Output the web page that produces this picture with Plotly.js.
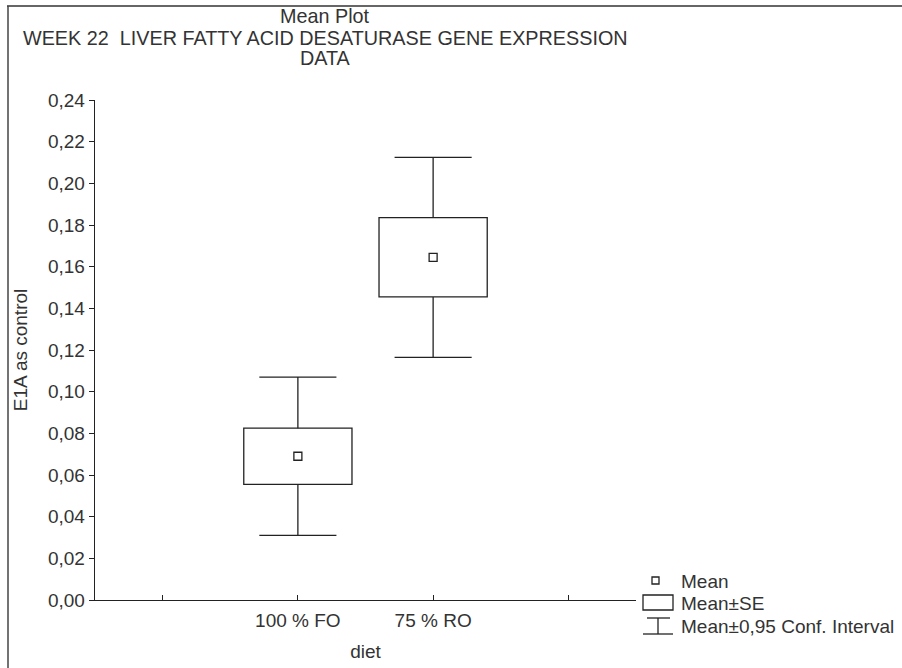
<!DOCTYPE html>
<html>
<head>
<meta charset="utf-8">
<script src="https://cdn.plot.ly/plotly-3.0.1.min.js"></script>
<style>html,body{margin:0;padding:0;background:#fff;}#chart{width:902px;height:668px;}</style>
</head>
<body>
<div id="chart"></div>
<script>
// Data
var categories = ['100 % FO', '75 % RO'];
var catPos = [1, 2];
var means = [0.069, 0.1645];
var seLow = [0.0555, 0.1455];
var seHigh = [0.0825, 0.1835];
var ciLow = [0.031, 0.1165];
var ciHigh = [0.107, 0.2125];
var tickVals = [0, 1, 2, 3];
var tickText = ['', '100 % FO', '75 % RO', ''];
var titleLines = ['Mean Plot', 'WEEK 22  LIVER FATTY ACID DESATURASE GENE EXPRESSION', 'DATA'];
var legendLabels = ['Mean', 'Mean±SE', 'Mean±0,95 Conf. Interval'];

var capHalf = 0.285;
var lineColor = '#222';
var textColor = '#333';
var fs = 19;

// plot area in pixels (for decorative layout placement only)
var L = 95, R = 636, T = 100, B = 600;
function px(x) { return (x - L) / (R - L); }
function py(y) { return (B - y) / (B - T); }

// whisker segments (SE edge to CI end) plus caps
var wx = [], wy = [];
for (var i = 0; i < categories.length; i++) {
  var c = catPos[i];
  wx.push(c, c, null, c, c, null);
  wy.push(seHigh[i], ciHigh[i], null, seLow[i], ciLow[i], null);
  wx.push(c - capHalf, c + capHalf, null, c - capHalf, c + capHalf, null);
  wy.push(ciHigh[i], ciHigh[i], null, ciLow[i], ciLow[i], null);
}

var traces = [
  {
    type: 'bar', name: legendLabels[1],
    x: catPos,
    base: seLow,
    y: seHigh.map(function (h, i) { return h - seLow[i]; }),
    width: 0.8,
    marker: {color: 'rgba(255,255,255,0)', line: {color: lineColor, width: 1.3}}
  },
  {
    type: 'scatter', mode: 'lines', name: legendLabels[2],
    x: wx, y: wy,
    line: {color: lineColor, width: 1.3},
    connectgaps: false, hoverinfo: 'skip'
  },
  {
    type: 'scatter', mode: 'markers', name: legendLabels[0],
    x: catPos, y: means,
    marker: {symbol: 'square-open', size: 8, color: lineColor, line: {width: 1.3, color: lineColor}}
  }
];

var annotations = [];
var titleY = [16, 38, 58];
for (var k = 0; k < titleLines.length; k++) {
  annotations.push({
    xref: 'paper', yref: 'paper', x: px(325), y: py(titleY[k]),
    xanchor: 'center', yanchor: 'middle', showarrow: false,
    text: titleLines[k], font: {size: 19.8, color: textColor}
  });
}
var legY = [581, 603, 626];
for (var m = 0; m < legendLabels.length; m++) {
  annotations.push({
    xref: 'paper', yref: 'paper', x: px(679), y: py(legY[m]),
    xanchor: 'left', yanchor: 'middle', showarrow: false,
    text: legendLabels[m], font: {size: fs, color: textColor}
  });
}

var g = {color: lineColor, width: 1.3};
var shapes = [
  // outer frame lines
  {type: 'line', xref: 'paper', yref: 'paper', x0: px(7), x1: px(902), y0: py(6), y1: py(6), line: {color: '#666', width: 2}},
  {type: 'line', xref: 'paper', yref: 'paper', x0: px(8), x1: px(8), y0: py(6), y1: py(668), line: {color: '#444', width: 1.5}},
  // legend glyphs
  {type: 'rect', xref: 'paper', yref: 'paper', x0: px(652), x1: px(659), y0: py(577), y1: py(584), line: g},
  {type: 'rect', xref: 'paper', yref: 'paper', x0: px(643), x1: px(673), y0: py(595), y1: py(610), line: g},
  {type: 'line', xref: 'paper', yref: 'paper', x0: px(647), x1: px(670), y0: py(618), y1: py(618), line: g},
  {type: 'line', xref: 'paper', yref: 'paper', x0: px(658), x1: px(658), y0: py(618), y1: py(634), line: g},
  {type: 'line', xref: 'paper', yref: 'paper', x0: px(643), x1: px(673), y0: py(634), y1: py(634), line: g}
];

var layout = {
  width: 902, height: 668,
  margin: {l: L, r: 902 - R, t: T, b: 668 - B},
  paper_bgcolor: '#fff', plot_bgcolor: '#fff',
  font: {family: 'Liberation Sans, Arial, sans-serif', size: fs, color: textColor},
  separators: ',.',
  showlegend: false,
  xaxis: {
    range: [-0.5, 3.5], tickmode: 'array', tickvals: tickVals, ticktext: tickText,
    ticks: 'inside', ticklen: 5, tickcolor: lineColor, tickwidth: 1,
    ticklabelstandoff: 3,
    showline: true, linecolor: lineColor, linewidth: 1.3,
    showgrid: false, zeroline: false, mirror: false,
    title: {text: 'diet', font: {size: fs, color: textColor}, standoff: 14},
    tickfont: {size: fs, color: textColor}, fixedrange: true
  },
  yaxis: {
    range: [0, 0.24], dtick: 0.02, tick0: 0, tickformat: '.2f',
    ticks: 'outside', ticklen: 5, tickcolor: lineColor, tickwidth: 1,
    showline: true, linecolor: lineColor, linewidth: 1.3,
    showgrid: false, zeroline: false, mirror: false,
    title: {text: 'E1A as control', font: {size: fs, color: textColor}, standoff: 15},
    tickfont: {size: fs, color: textColor}, fixedrange: true
  },
  annotations: annotations,
  shapes: shapes
};

Plotly.newPlot('chart', traces, layout, {displayModeBar: false, staticPlot: true});
</script>
</body>
</html>
